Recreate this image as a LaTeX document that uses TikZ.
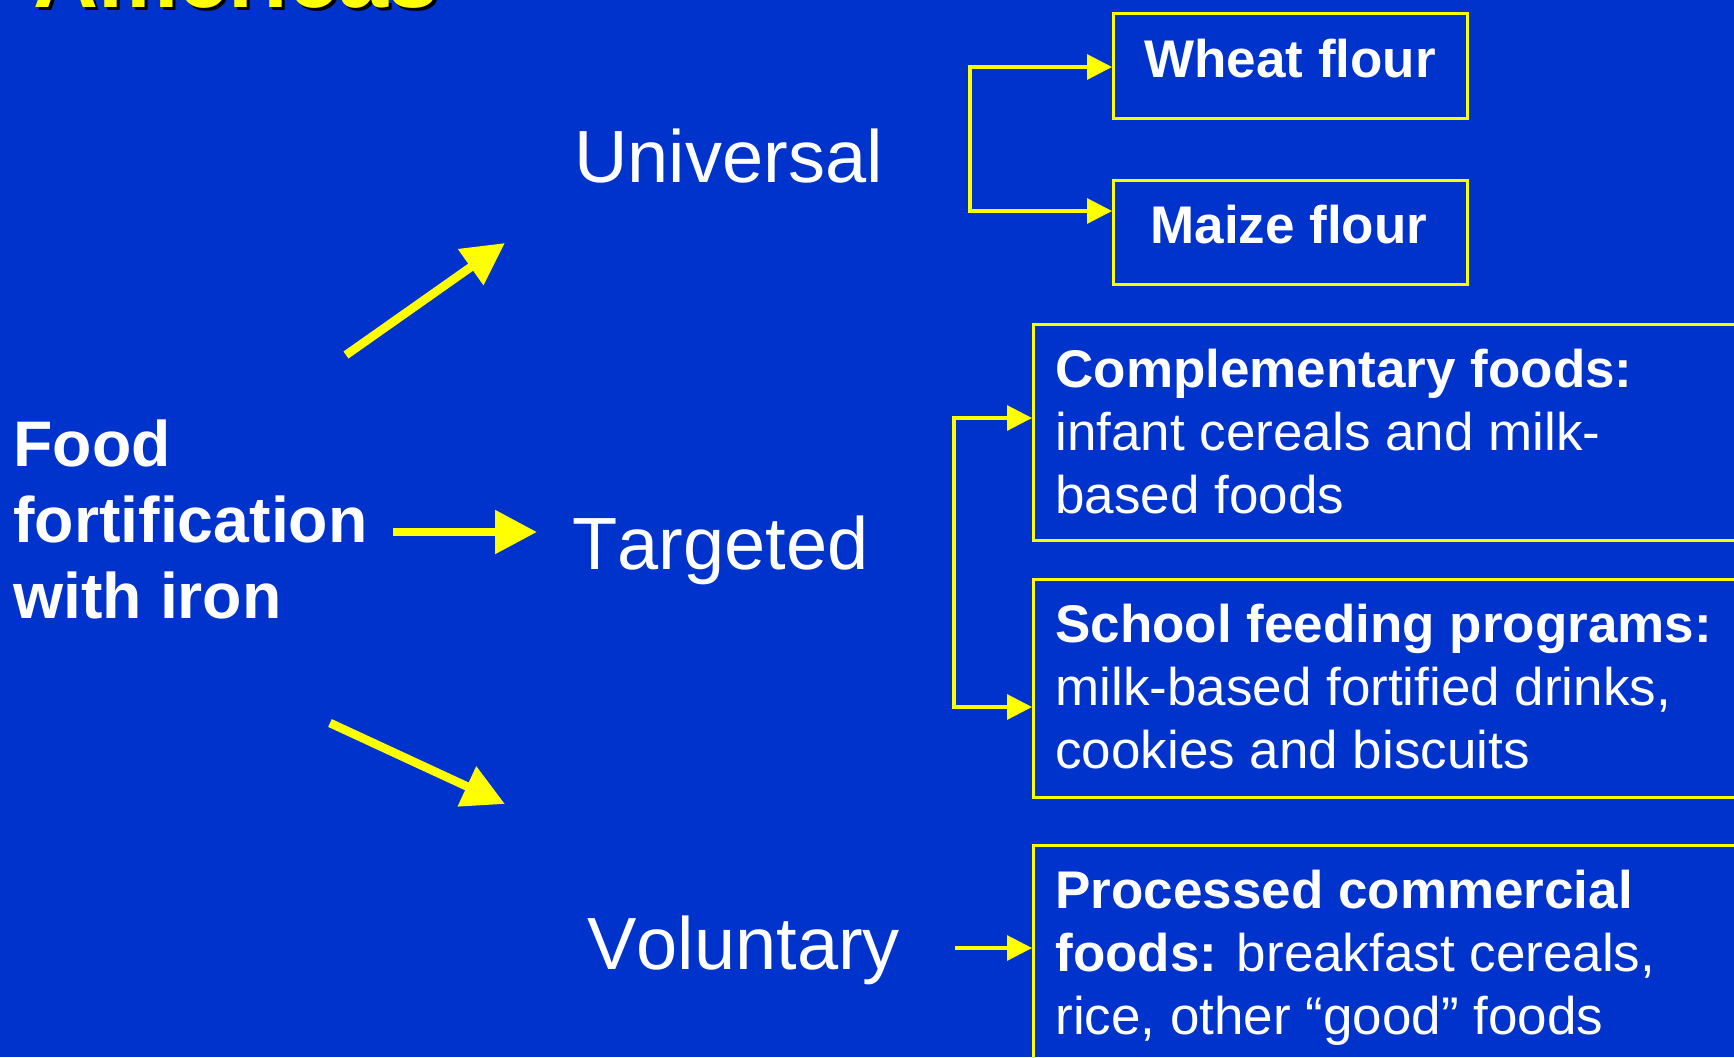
\documentclass[tikz,border=0pt]{standalone}
\usepackage{fontspec}
\setmainfont{Liberation Sans}[Kerning=Off]
\usetikzlibrary{arrows.meta}
\definecolor{bgblue}{RGB}{0,51,204}
\definecolor{ylw}{RGB}{255,255,0}
\newcommand\myfs[2]{\fontsize{#1}{#2}\selectfont}
\begin{document}
\begin{tikzpicture}[x=0.5pt,y=-0.5pt,
  txt/.style={inner sep=0pt, anchor=base west, text=white},
  bigarrow/.style={draw=ylw, line width=4.3pt, -{Triangle[length=21pt,width=21pt]}},
  thinarrow/.style={draw=ylw, line width=1.6pt, line join=miter, -{Triangle[length=12.5pt,width=12.5pt]}},
  thinline/.style={draw=ylw, line width=1.6pt},
  ybox/.style={draw=ylw, line width=1.7pt, inner sep=0pt, anchor=north west},
  boxtext/.style={txt, font=\myfs{26.5}{31.5}},
  cat/.style={txt, font=\myfs{37}{44}},
]
\useasboundingbox (0,0) rectangle (1734,1057);
\clip (0,0) rectangle (1734,1057);
\fill[bgblue] (0,0) rectangle (1734,1057);

% cut-off title
\node[txt, text=black] (titleshadow) at (36,10) {\myfs{45}{54}\bfseries Americas};
\node[txt, text=ylw] (title) at (33,7) {\myfs{45}{54}\bfseries Americas};

% source
\node[txt] (food) at (13,466) {\parbox[t]{200pt}{\myfs{32.2}{38}\bfseries Food\\fortification\\with iron}};

% categories
\node[cat] (universal) at (574,182) {Universal};
\node[cat] (targeted) at (572,569) {Targeted};
\node[cat] (voluntary) at (587,969) {Voluntary};

% big arrows
\coordinate (u0) at (346,355); \coordinate (u1) at (505,243);
\coordinate (t0) at (393,532); \coordinate (t1) at (537,532);
\coordinate (v0) at (330,723); \coordinate (v1) at (505,804);
\draw[bigarrow] (u0) -- (u1);
\draw[bigarrow] (t0) -- (t1);
\draw[bigarrow] (v0) -- (v1);

% boxes
\node[ybox, minimum width=177pt, minimum height=52.5pt] (wheat) at (1112,12) {};
\node[ybox, minimum width=177pt, minimum height=52pt] (maize) at (1112,179) {};
\node[ybox, minimum width=364pt, minimum height=108pt] (comp) at (1032,323) {};
\node[ybox, minimum width=364pt, minimum height=109pt] (school) at (1032,578) {};
\node[ybox, minimum width=364pt, minimum height=128pt] (proc) at (1032,844) {};

% box texts
\node[txt, font=\myfs{26.5}{31.5}\bfseries] (wheatt) at (1144,77) {Wheat flour};
\node[txt, font=\myfs{26.5}{31.5}\bfseries] (maizet) at (1150,243) {Maize flour};
\node[boxtext] (compt) at (1055,387) {\parbox[t]{330pt}{\myfs{26.5}{31.5}\textbf{Complementary foods:}\\infant cereals and milk-\\based foods}};
\node[boxtext] (schoolt) at (1055,642) {\parbox[t]{330pt}{\myfs{26.5}{31.5}\textbf{School feeding programs:}\\milk-based fortified drinks,\\cookies and biscuits}};
\node[boxtext] (proct) at (1055,908) {\parbox[t]{330pt}{\myfs{26.5}{31.5}\textbf{Processed commercial}\\\textbf{foods:} breakfast cereals,\\rice, other “good” foods}};

% thin connectors
\coordinate (ub1) at (970,67); \coordinate (ub2) at (970,211);
\draw[thinarrow] (ub2) -- (ub1) -- (ub1 -| wheat.west);
\draw[thinarrow] (ub1) -- (ub2) -- (ub2 -| maize.west);
\coordinate (tb1) at (954,418); \coordinate (tb2) at (954,707);
\draw[thinarrow] (tb2) -- (tb1) -- (tb1 -| comp.west);
\draw[thinarrow] (tb1) -- (tb2) -- (tb2 -| school.west);
\coordinate (vb) at (955,948);
\draw[thinarrow] (vb) -- (vb -| proc.west);
\end{tikzpicture}
\end{document}
